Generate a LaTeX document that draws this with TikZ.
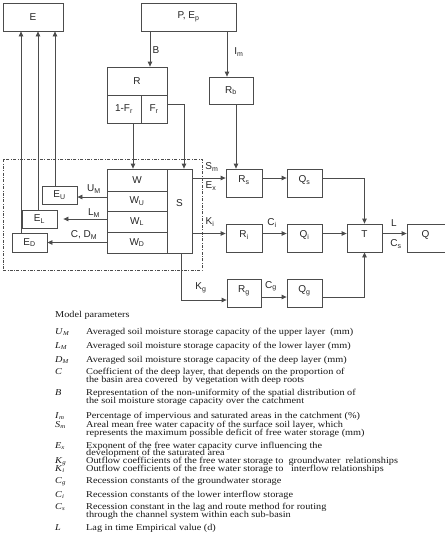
\documentclass[tikz,border=0pt]{standalone}
\usepackage{fontspec}
\setmainfont{Liberation Sans}
\newfontfamily\descfont[FakeStretch=1.14]{Liberation Serif}
\usetikzlibrary{arrows.meta}
\newcommand\psym[2]{\textit{#1}\textsubscript{\textit{#2}}}
\begin{document}
\begin{tikzpicture}[x=1pt,y=-1pt,
  ln/.style={draw=black!70, line width=0.8pt},
  arr/.style={ln, -{Triangle[length=5pt,width=4.5pt]}},
  box/.style={ln, rectangle, inner sep=0pt, font=\fontsize{10}{12}\selectfont, text=black!85},
  txtup/.style={text height=7pt, text depth=#1},
  lbl/.style={font=\fontsize{10}{12}\selectfont, text=black!85, inner sep=0pt},
  desc/.style={font=\descfont\fontsize{9}{10}\selectfont, anchor=west, inner sep=0pt, text height=5.5pt, text depth=1.5pt, text=black!90},
]
\useasboundingbox (0,0) rectangle (445,550);
\fill[white] (0,0) rectangle (445,550);
\begin{scope}
\clip (0,0) rectangle (445,550);
% frame
\node[draw=black!70, line width=0.7pt, dash pattern=on 3pt off 1.5pt on 0.7pt off 1.5pt, minimum width=199pt, minimum height=111pt, inner sep=0pt] (frame) at (102.5,214.5) {};
% boxes
\node[box, minimum width=60pt, minimum height=28pt] (E) at (33,17) {E};
\node[box, minimum width=95pt, minimum height=28pt] (P) at (188.5,17) {P, E\textsubscript{p}};
\node[box, minimum width=60pt, minimum height=28pt] (R) at (137,81) {R};
\node[box, minimum width=34pt, minimum height=28pt] (F1) at (124,109) {1-F\textsubscript{r}};
\node[box, minimum width=26pt, minimum height=28pt] (F) at (154,109) {F\textsubscript{r}};
\node[box, minimum width=44pt, minimum height=27pt] (Rb) at (231,90.5) {R\textsubscript{b}};
\node[box, minimum width=60pt, minimum height=22pt] (W) at (137,180) {W};
\node[box, minimum width=60pt, minimum height=20pt] (WU) at (137,201) {W\textsubscript{U}};
\node[box, minimum width=60pt, minimum height=21pt] (WL) at (137,221.5) {W\textsubscript{L}};
\node[box, minimum width=60pt, minimum height=21pt] (WD) at (137,242.5) {W\textsubscript{D}};
\node[box, txtup=16pt, minimum width=25pt, minimum height=84pt] (S) at (179.5,211) {S};
\node[box, minimum width=35pt, minimum height=18pt] (EU) at (59.5,195) {E\textsubscript{U}};
\node[box, minimum width=35pt, minimum height=18pt] (EL) at (39.5,219) {E\textsubscript{L}};
\node[box, minimum width=35pt, minimum height=19pt] (ED) at (29.5,242.5) {E\textsubscript{D}};
\node[box, txtup=8pt, minimum width=36pt, minimum height=28pt] (Rs) at (244,183) {R\textsubscript{s}};
\node[box, txtup=8pt, minimum width=35pt, minimum height=28pt] (Qs) at (304.5,183) {Q\textsubscript{s}};
\node[box, txtup=8pt, minimum width=36pt, minimum height=28pt] (Ri) at (244,238) {R\textsubscript{i}};
\node[box, txtup=8pt, minimum width=35pt, minimum height=28pt] (Qi) at (304.5,238) {Q\textsubscript{i}};
\node[box, txtup=8pt, minimum width=35pt, minimum height=28pt] (T) at (364.5,238) {T};
\node[box, txtup=8pt, minimum width=40pt, minimum height=28pt] (Q) at (427,238) {Q\hspace*{3pt}};
\node[box, txtup=8pt, minimum width=34pt, minimum height=28pt] (Rg) at (244,293) {R\textsubscript{g}};
\node[box, txtup=8pt, minimum width=35pt, minimum height=28pt] (Qg) at (304.5,293) {Q\textsubscript{g}};
% helper coordinates
\coordinate (cB) at (150,0);
\coordinate (cIm) at (227,0);
\coordinate (cRb) at (236,0);
\coordinate (cF1) at (133,0);
\coordinate (cF) at (184,104);
\coordinate (cKg) at (181,300);
\coordinate (rS) at (0,178);
\coordinate (rI) at (0,233.5);
\coordinate (rG) at (0,297);
\coordinate (cT) at (364.5,0);
% connectors
\draw[arr] (P.south -| cB) -- (R.north -| cB);
\draw[arr] (P.south -| cIm) -- (Rb.north -| cIm);
\draw[arr] (Rb.south -| cRb) -- (Rs.north -| cRb);
\draw[arr] (F1.south -| cF1) -- (W.north -| cF1);
\draw[arr] (F.east |- cF) -- (cF) -- (S.north -| cF);
\draw[arr] ([yshift=-2pt]WU.west |- EU.east) -- ([yshift=-2pt]EU.east);
\draw[arr] (WL.west |- EL.east) -- ([xshift=6pt]EL.east);
\draw[arr] (WD.west) -- (ED.east);
\draw[arr] ([xshift=-8.5pt]ED.north) -- ([xshift=-8.5pt]ED.north |- E.south);
\draw[arr] ([xshift=-1.5pt]EL.north) -- ([xshift=-1.5pt]EL.north |- E.south);
\draw[arr] ([xshift=-4.5pt]EU.north) -- ([xshift=-4.5pt]EU.north |- E.south);
\draw[arr] (S.east |- rS) -- (Rs.west |- rS);
\draw[arr] (Rs.east |- rS) -- (Qs.west |- rS);
\draw[arr] (Qs.east |- rS) -- (cT |- rS) -- (T.north);
\draw[arr] (S.east |- rI) -- (Ri.west |- rI);
\draw[arr] (Ri.east |- rI) -- (Qi.west |- rI);
\draw[arr] (Qi.east |- rI) -- (T.west |- rI);
\draw[arr] (T.east |- rI) -- (Q.west |- rI);
\draw[arr] (S.south -| cKg) -- (cKg) -- (Rg.west |- cKg);
\draw[arr] (Rg.east |- rG) -- (Qg.west |- rG);
\draw[arr] (Qg.east |- rG) -- (cT |- rG) -- (T.south);
% connector labels
\node[lbl] (lB) at (156,50) {B};
\node[lbl] (lIm) at (239,52) {I\textsubscript{m}};
\node[lbl] (lUM) at (94,189) {U\textsubscript{M}};
\node[lbl] (lLM) at (94,213) {L\textsubscript{M}};
\node[lbl] (lCD) at (84,235) {C, D\textsubscript{M}};
\node[lbl] (lSm) at (212,167) {S\textsubscript{m}};
\node[lbl] (lEx) at (211,186) {E\textsubscript{x}};
\node[lbl] (lKi) at (210,222) {K\textsubscript{i}};
\node[lbl] (lCi) at (272,223) {C\textsubscript{i}};
\node[lbl] (lKg) at (201,288) {K\textsubscript{g}};
\node[lbl] (lCg) at (271,286) {C\textsubscript{g}};
\node[lbl] (lL) at (394,223) {L};
\node[lbl] (lCs) at (396,244) {C\textsubscript{s}};
% parameter list
\node[desc] (mp) at (55,315) {Model parameters};
\node[desc] (s1) at (55,332) {\psym{U}{M}};
\node[desc] (d1) at (86,332) {Averaged soil moisture storage capacity of the upper layer~ (mm)};
\node[desc] (s2) at (55,346) {\psym{L}{M}};
\node[desc] (d2) at (86,346) {Averaged soil moisture storage capacity of the lower layer (mm)};
\node[desc] (s3) at (55,360) {\psym{D}{M}};
\node[desc] (d3) at (86,360) {Averaged soil moisture storage capacity of the deep layer (mm)};
\node[desc] (s4) at (55,372) {\textit{C}};
\node[desc] (d4a) at (86,372) {Coefficient of the deep layer, that depends on the proportion of};
\node[desc] (d4b) at (86,380) {the basin area covered~ by vegetation with deep roots};
\node[desc] (s5) at (55,393) {\textit{B}};
\node[desc] (d5a) at (86,393) {Representation of the non-uniformity of the spatial distribution of};
\node[desc] (d5b) at (86,401.5) {the soil moisture storage capacity over the catchment};
\node[desc] (s6) at (55,416) {\psym{I}{m}};
\node[desc] (d6) at (86,416) {Percentage of impervious and saturated areas in the catchment (\%)};
\node[desc] (s7) at (55,425) {\psym{S}{m}};
\node[desc] (d7a) at (86,425) {Areal mean free water capacity of the surface soil layer, which};
\node[desc] (d7b) at (86,433) {represents the maximum possible deficit of free water storage (mm)};
\node[desc] (s8) at (55,446) {\psym{E}{x}};
\node[desc] (d8a) at (86,446) {Exponent of the free water capacity curve influencing the};
\node[desc] (d8b) at (86,453.5) {development of the saturated area};
\node[desc] (s9) at (55,461.5) {\psym{K}{g}};
\node[desc] (d9) at (86,461.5) {Outflow coefficients of the free water storage to~ groundwater~ relationships};
\node[desc] (s10) at (55,469.5) {\psym{K}{i}};
\node[desc] (d10) at (86,469.5) {Outflow coefficients of the free water storage to~~ interflow relationships};
\node[desc] (s11) at (55,481) {\psym{C}{g}};
\node[desc] (d11) at (86,481) {Recession constants of the groundwater storage};
\node[desc] (s12) at (55,495) {\psym{C}{i}};
\node[desc] (d12) at (86,495) {Recession constants of the lower interflow storage};
\node[desc] (s13) at (55,507) {\psym{C}{s}};
\node[desc] (d13a) at (86,507) {Recession constant in the lag and route method for routing};
\node[desc] (d13b) at (86,515) {through the channel system within each sub-basin};
\node[desc] (s14) at (55,528) {\textit{L}};
\node[desc] (d14) at (86,528) {Lag in time Empirical value (d)};
\end{scope}
\end{tikzpicture}
\end{document}
